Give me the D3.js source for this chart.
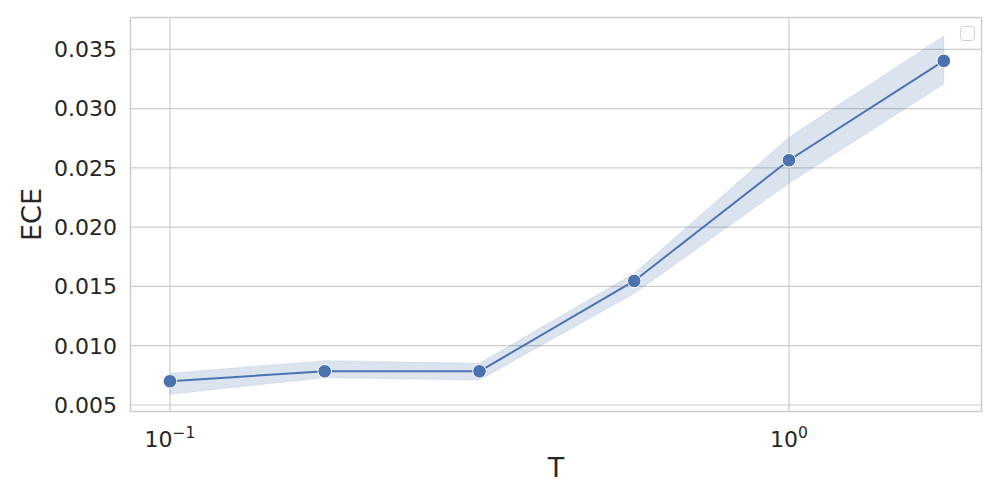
<!DOCTYPE html>
<html><head><meta charset="utf-8">
<script src="https://cdn.jsdelivr.net/npm/d3@7"></script>
<style>body{margin:0;background:#fff}svg{display:block}text{font-family:"DejaVu Sans",sans-serif;fill:#262626}</style>
</head><body><svg id="c" width="1000" height="500"></svg>
<script>
const T = [0.1, 0.1778, 0.3162, 0.5623, 1.0, 1.7783];
const ece = [0.00700, 0.00784, 0.00784, 0.01546, 0.02564, 0.03402];
const eceLow = [0.00590, 0.00730, 0.00711, 0.01440, 0.02370, 0.03208];
const eceHigh = [0.00767, 0.00874, 0.00852, 0.01610, 0.02757, 0.03612];
const yTicks = [0.005, 0.010, 0.015, 0.020, 0.025, 0.030, 0.035];
const xTicks = [0.1, 1];
const xTickExp = ["\u22121", "0"];

const svg = d3.select("#c");
const L = 130.5, R = 981.5, Tp = 17.5, B = 411.5;
const x = d3.scaleLog().domain([Math.pow(10, -1.0638), Math.pow(10, 0.311)]).range([L, R]);
const y = d3.scaleLinear().domain([0.00445, 0.03768]).range([B, Tp]);
const col = "#4c72b0", grid = "#cccccc";

// grid
svg.append("g").selectAll("line").data(yTicks).join("line")
  .attr("x1", L).attr("x2", R).attr("y1", d => y(d)).attr("y2", d => y(d))
  .attr("stroke", grid).attr("stroke-width", 1.2);
svg.append("g").selectAll("line").data(xTicks).join("line")
  .attr("y1", Tp).attr("y2", B).attr("x1", d => x(d)).attr("x2", d => x(d))
  .attr("stroke", grid).attr("stroke-width", 1.2);

// band
const idx = d3.range(T.length);
svg.append("path").datum(idx)
  .attr("d", d3.area().x(i => x(T[i])).y0(i => y(eceLow[i])).y1(i => y(eceHigh[i])))
  .attr("fill", col).attr("fill-opacity", 0.2)
  .attr("stroke", col).attr("stroke-opacity", 0.12).attr("stroke-width", 1);

// line
svg.append("path").datum(idx)
  .attr("d", d3.line().x(i => x(T[i])).y(i => y(ece[i])))
  .attr("fill", "none").attr("stroke", col).attr("stroke-width", 2);

// markers
svg.append("g").selectAll("circle").data(idx).join("circle")
  .attr("cx", i => x(T[i])).attr("cy", i => y(ece[i])).attr("r", 6.8)
  .attr("fill", col).attr("stroke", "#fff").attr("stroke-width", 1);

// frame
svg.append("rect").attr("x", L).attr("y", Tp).attr("width", R - L).attr("height", B - Tp)
  .attr("fill", "none").attr("stroke", grid).attr("stroke-width", 1.5);

// y tick labels
svg.append("g").selectAll("text").data(yTicks).join("text")
  .attr("x", 117).attr("y", d => y(d)).attr("dy", "0.36em")
  .attr("text-anchor", "end").attr("font-size", 22)
  .text(d => d3.format(".3f")(d));

// x tick labels
const xl = svg.append("g").selectAll("text").data(xTicks).join("text")
  .attr("x", d => x(d)).attr("y", 447).attr("text-anchor", "middle").attr("font-size", 22);
xl.append("tspan").text("10");
xl.append("tspan").attr("dy", -9).attr("font-size", 15.5).text((d, i) => xTickExp[i]);

// axis labels
svg.append("text").attr("x", (L + R) / 2).attr("y", 477).attr("text-anchor", "middle")
  .attr("font-size", 27).text("T");
svg.append("text").attr("transform", "translate(41," + ((Tp + B) / 2) + ") rotate(-90)")
  .attr("text-anchor", "middle").attr("font-size", 27).text("ECE");

// empty legend
svg.append("rect").attr("x", 960.5).attr("y", 26.5).attr("width", 14).attr("height", 14)
  .attr("rx", 3).attr("fill", "#fff").attr("fill-opacity", 0.8)
  .attr("stroke", "#d0d0d0").attr("stroke-width", 1);
</script></body></html>
